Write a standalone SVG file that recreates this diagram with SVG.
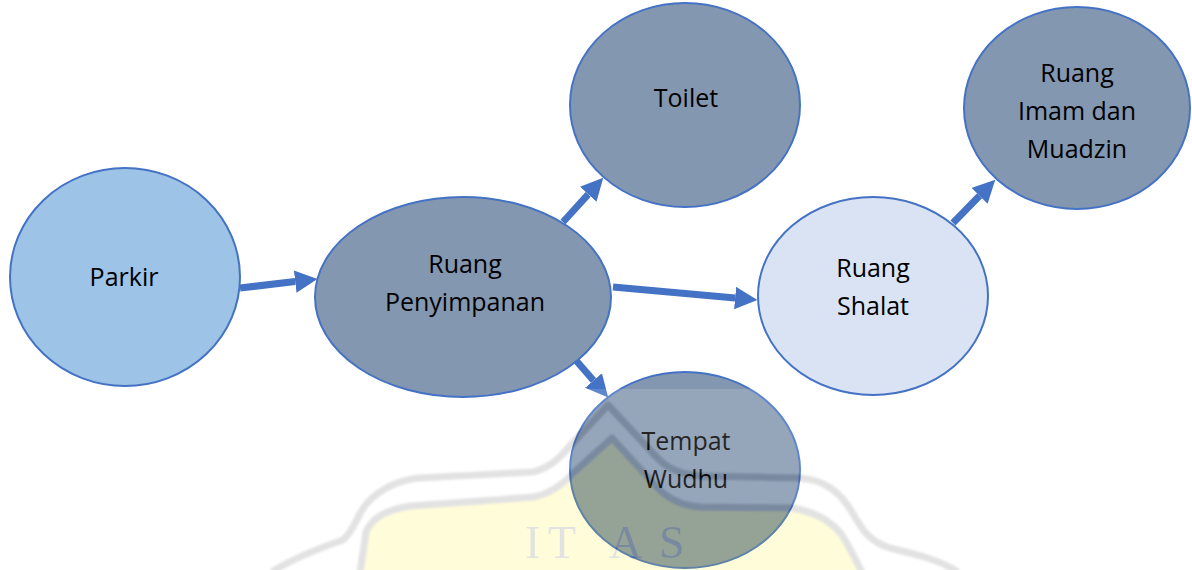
<svg xmlns="http://www.w3.org/2000/svg" width="1192" height="570" viewBox="0 0 1192 570">
  <style>
    .node { stroke: #4472c4; stroke-width: 2; }
    .dark { fill: #8497b0; }
    .label { font-family: "Open Sans", "Liberation Sans", sans-serif; font-size: 25px; fill: #000; text-anchor: middle; }
    .link { stroke: #4472c4; stroke-width: 7; fill: none; marker-end: url(#head); }
    .band { fill: none; stroke: #3d3d3d; stroke-width: 7; stroke-linejoin: round; }
  </style>
  <defs>
    <marker id="head" viewBox="0 0 10 10" refX="0" refY="5" markerWidth="3.2" markerHeight="3.3" markerUnits="strokeWidth" orient="auto">
      <path d="M0,0 L10,5 L0,10 Z" fill="#4472c4"/>
    </marker>
    <filter id="soft" x="-5%" y="-5%" width="110%" height="110%">
      <feGaussianBlur stdDeviation="1.3"/>
    </filter>
  </defs>

  <rect width="1192" height="570" fill="#ffffff"/>

  <!-- connectors -->
  <g id="connectors">
    <line class="link" x1="240" y1="288" x2="295.2" y2="281.6"/>
    <line class="link" x1="563" y1="222" x2="588.2" y2="194.3"/>
    <line class="link" x1="613" y1="287" x2="735.1" y2="298"/>
    <line class="link" x1="953" y1="223" x2="979.6" y2="195.8"/>
    <line class="link" x1="573" y1="357" x2="593.5" y2="380.5"/>
  </g>

  <g id="parkir">
    <ellipse class="node" cx="125" cy="277" rx="115" ry="109" fill="#9dc3e6"/>
    <text class="label" x="124" y="286">Parkir</text>
  </g>

  <g id="ruang-penyimpanan">
    <ellipse class="node dark" cx="463" cy="297" rx="148" ry="100"/>
    <text class="label" x="465" y="273">Ruang</text>
    <text class="label" x="465" y="311">Penyimpanan</text>
  </g>

  <g id="toilet">
    <ellipse class="node dark" cx="685" cy="105" rx="115" ry="102"/>
    <text class="label" x="686" y="107">Toilet</text>
  </g>

  <g id="ruang-imam">
    <ellipse class="node dark" cx="1077" cy="108" rx="113" ry="101"/>
    <text class="label" x="1077" y="82">Ruang</text>
    <text class="label" x="1077" y="120">Imam dan</text>
    <text class="label" x="1077" y="158">Muadzin</text>
  </g>

  <g id="ruang-shalat">
    <ellipse class="node" cx="873" cy="296" rx="115" ry="99" fill="#dae3f3"/>
    <text class="label" x="873" y="277">Ruang</text>
    <text class="label" x="873" y="315">Shalat</text>
  </g>

  <g id="tempat-wudhu">
    <ellipse class="node dark" cx="685" cy="470" rx="115" ry="98"/>
    <text class="label" x="686" y="450">Tempat</text>
    <text class="label" x="686" y="488">Wudhu</text>
  </g>

  <!-- faint emblem laid over the lower part of the page -->
  <g id="emblem" opacity="0.14">
    <rect x="566" y="389" width="240" height="181" fill="#ffffff"/>
    <path d="M360,572 L366,532 C372,518 385,510 410,506 L533,497 C550,494 562,485 572,474 L612,438 L655,485 C668,500 685,506 700,507 L793,508 C815,512 832,522 842,535 C850,548 856,560 862,572 Z" fill="#ffee00" stroke="none"/>
    <g filter="url(#soft)">
      <path class="band" d="M360,572 L366,532 C372,518 385,510 410,506 L533,497 C550,494 562,485 572,474 L612,438 L655,485 C668,500 685,506 700,507 L793,508 C815,512 832,522 842,535 C850,548 856,560 862,572"/>
      <path class="band" d="M272,572 C290,560 320,548 343,540 C355,530 358,512 368,502 C378,492 395,480 420,478 L533,472 C550,468 560,458 568,448 L608,405 L650,450 C660,462 672,474 700,476 L800,478 C825,480 840,492 852,512 C862,530 870,542 890,548 C915,554 940,560 958,572"/>
    </g>
    <text x="525 548 609 659" y="558" font-family="Liberation Serif, serif" font-size="46" fill="#3d3d3d">ITAS</text>
  </g>
</svg>
